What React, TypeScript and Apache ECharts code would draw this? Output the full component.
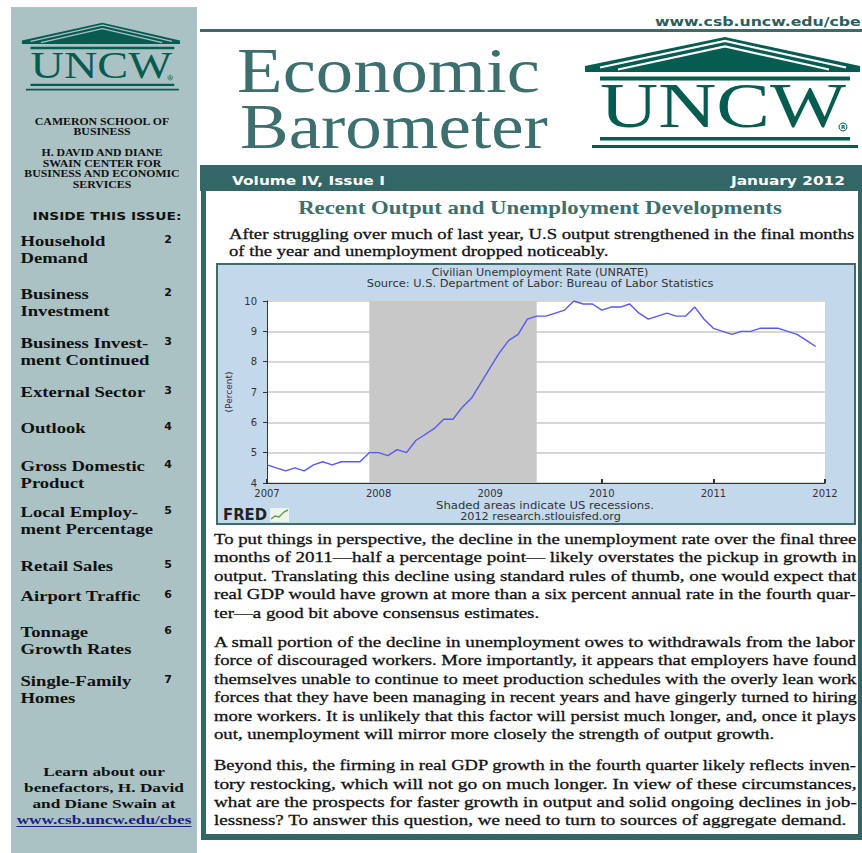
import React, { useEffect, useRef } from 'react';
import * as echarts from 'echarts';

// ---------- chart data: Civilian Unemployment Rate (UNRATE), monthly, Jan 2007 - Dec 2011 ----------
const startYear = 2007;
const rate2007 = [4.6, 4.5, 4.4, 4.5, 4.4, 4.6, 4.7, 4.6, 4.7, 4.7, 4.7, 5.0];
const rate2008 = [5.0, 4.9, 5.1, 5.0, 5.4, 5.6, 5.8, 6.1, 6.1, 6.5, 6.8, 7.3];
const rate2009 = [7.8, 8.3, 8.7, 8.9, 9.4, 9.5, 9.5, 9.6, 9.7, 10.0, 9.9, 9.9];
const rate2010 = [9.7, 9.8, 9.8, 9.9, 9.6, 9.4, 9.5, 9.6, 9.5, 9.5, 9.8, 9.4];
const rate2011 = [9.1, 9.0, 8.9, 9.0, 9.0, 9.1, 9.1, 9.1, 9.0, 8.9, 8.7, 8.5];
const recessionStart = { year: 2007, month: 12 };
const recessionEnd = { year: 2009, month: 6 };
const xRange = [2007, 2012];
const yRange = [4, 10];

// ---------- page texts ----------
const chartTitle = 'Civilian Unemployment Rate (UNRATE)';
const chartSource = 'Source: U.S. Department of Labor: Bureau of Labor Statistics';
const chartNote1 = 'Shaded areas indicate US recessions.';
const chartNote2 = '2012 research.stlouisfed.org';

const sideHeader = ['CAMERON SCHOOL OF', 'BUSINESS', 'H. DAVID AND DIANE', 'SWAIN CENTER FOR', 'BUSINESS AND ECONOMIC', 'SERVICES'];
const tocTitles = [
  ['Household', 'Demand'],
  ['Business', 'Investment'],
  ['Business Invest-', 'ment Continued'],
  ['External Sector'],
  ['Outlook'],
  ['Gross Domestic', 'Product'],
  ['Local Employ-', 'ment Percentage'],
  ['Retail Sales'],
  ['Airport Traffic'],
  ['Tonnage', 'Growth Rates'],
  ['Single-Family', 'Homes'],
];
const tocPages = ['2', '2', '3', '3', '4', '4', '5', '5', '6', '6', '7'];
const learnLines = ['Learn about our', 'benefactors, H. David', 'and Diane Swain at'];
const learnUrl = 'www.csb.uncw.edu/cbes';

const introLines = [
  'After struggling over much of last year, U.S output strengthened in the final months',
  'of the year and unemployment dropped noticeably.',
];
const para1 = [
  'To put things in perspective, the decline in the unemployment rate over the final three',
  'months of 2011\u2014half a percentage point\u2014 likely overstates the pickup in growth in',
  'output. Translating this decline using standard rules of thumb, one would expect that',
  'real GDP would have grown at more than a six percent annual rate in the fourth quar-',
  'ter\u2014a good bit above consensus estimates.',
];
const para2 = [
  'A small portion of the decline in unemployment owes to withdrawals from the labor',
  'force of discouraged workers. More importantly, it appears that employers have found',
  'themselves unable to continue to meet production schedules with the overly lean work',
  'forces that they have been managing in recent years and have gingerly turned to hiring',
  'more workers. It is unlikely that this factor will persist much longer, and, once it plays',
  'out, unemployment will mirror more closely the strength of output growth.',
];
const para3 = [
  'Beyond this, the firming in real GDP growth in the fourth quarter likely reflects inven-',
  'tory restocking, which will not go on much longer. In view of these circumstances,',
  'what are the prospects for faster growth in output and solid ongoing declines in job-',
  'lessness? To answer this question, we need to turn to sources of aggregate demand.',
];

// ---------- styles ----------
const SERIF = 'Liberation Serif';
const SANS = 'DejaVu Sans';
const TEAL = '#336666';
const TITLE = '#3d6f6f';
const LOGO = '#065c50';
const SIDEBAR = '#abc2c5';
const INK = '#111111';

let mctx: CanvasRenderingContext2D | null = null;
function measure(text: string, size: number, family: string, weight: string) {
  if (!mctx) mctx = document.createElement('canvas').getContext('2d');
  mctx!.font = `${weight} ${size}px "${family}"`;
  return mctx!.measureText(text).width;
}

type TOpt = {
  size: number; family?: string; weight?: string; fill?: string;
  align?: 'left' | 'center' | 'right'; sx?: number; width?: number; heavy?: boolean;
};
function txt(text: string, x: number, y: number, o: TOpt): any {
  const family = o.family ?? SERIF;
  const weight = o.weight ?? 'normal';
  const fill = o.fill ?? INK;
  let sx = o.sx ?? 1;
  if (o.width) sx = o.width / measure(text, o.size, family, weight);
  const style: any = {
    text, x: 0, y: 0, fontSize: o.size, fontFamily: family, fontWeight: weight,
    fill, textAlign: o.align ?? 'left', textVerticalAlign: 'middle',
  };
  if (o.heavy) { style.stroke = fill; style.lineWidth = 0.3; }
  return { type: 'text', x, y, scaleX: sx, z: 20, style };
}

function paragraph(lines: string[], x: number, y0: number, step: number, width: number, size: number) {
  const nat = lines.map((l) => measure(l, size, SERIF, 'normal'));
  const sc = nat.map((w) => width / w);
  const body = sc.slice(0, -1);
  const avg = body.length ? body.reduce((a, b) => a + b, 0) / body.length : 1;
  return lines.map((l, i) =>
    txt(l, x, y0 + i * step, { size, heavy: true, sx: i < lines.length - 1 ? sc[i] : Math.min(avg, sc[i]) })
  );
}

function logo(x: number, y: number, sx: number, sy: number, stripe: string): any {
  return {
    type: 'group', x, y, scaleX: sx, scaleY: sy,
    children: [
      { type: 'polygon', z: 15, shape: { points: [[5, 36], [145, 7], [280, 36], [280, 42], [5, 42]] }, style: { fill: LOGO } },
      { type: 'polyline', z: 16, shape: { points: [[20, 37.5], [145, 11], [266, 37.5]] }, style: { stroke: stripe, lineWidth: 2.2, fill: null } },
      { type: 'polyline', z: 16, shape: { points: [[38, 39.5], [145, 16.5], [249, 39.5]] }, style: { stroke: stripe, lineWidth: 2.2, fill: null } },
      { type: 'rect', z: 15, shape: { x: 20, y: 46.5, width: 250, height: 4 }, style: { fill: LOGO } },
      { ...txt('UNCW', 20, 76, { size: 63, fill: LOGO, width: 246 }), z: 17 },
      { type: 'circle', z: 17, shape: { cx: 263, cy: 97, r: 4 }, style: { fill: 'none', stroke: LOGO, lineWidth: 1 } },
      { ...txt('R', 263, 97.3, { size: 5.5, family: SANS, weight: 'bold', fill: LOGO, align: 'center' }), z: 17 },
      { type: 'rect', z: 15, shape: { x: 20, y: 107, width: 250, height: 3.5 }, style: { fill: LOGO } },
      { type: 'rect', z: 15, shape: { x: 12, y: 115, width: 266, height: 3 }, style: { fill: LOGO } },
    ],
  };
}

function buildOption(): any {
  const rates = [...rate2007, ...rate2008, ...rate2009, ...rate2010, ...rate2011];
  const points = rates.map((v, i) => [startYear + i / 12, v]);
  const recStart = recessionStart.year + (recessionStart.month - 1) / 12;
  const recEnd = recessionEnd.year + (recessionEnd.month - 1) / 12;

  const g: any[] = [];
  // backgrounds & frames
  g.push({ type: 'rect', z: -1, shape: { x: 11, y: 7, width: 186, height: 846 }, style: { fill: SIDEBAR } });
  g.push({ type: 'rect', z: 1, shape: { x: 200, y: 29, width: 662, height: 3 }, style: { fill: '#3d6b6b' } });
  g.push({ type: 'rect', z: 1, shape: { x: 200, y: 165, width: 662, height: 26 }, style: { fill: TEAL } });
  g.push({ type: 'rect', z: 1, shape: { x: 201, y: 165, width: 5, height: 675 }, style: { fill: TEAL } });
  g.push({ type: 'rect', z: 1, shape: { x: 858, y: 165, width: 4, height: 675 }, style: { fill: TEAL } });
  g.push({ type: 'rect', z: 1, shape: { x: 201, y: 834, width: 661, height: 6 }, style: { fill: TEAL } });
  g.push({ type: 'rect', z: -1, shape: { x: 217, y: 264, width: 638, height: 260 }, style: { fill: '#c4d8ec', stroke: '#3f6b6b', lineWidth: 2 } });

  // logos
  g.push(logo(580, 30, 1, 1, '#ffffff'));
  g.push(logo(19, 18.5, 0.575, 0.61, SIDEBAR));

  // masthead
  g.push(txt('www.csb.uncw.edu/cbe', 655, 21.5, { size: 13, family: SANS, weight: 'bold', fill: '#2f5d5d', width: 206 }));
  g.push(txt('Economic', 237, 70.5, { size: 63, fill: TITLE, width: 303 }));
  g.push(txt('Barometer', 240, 126.5, { size: 63, fill: TITLE, width: 308 }));
  const banL = txt('Volume IV, Issue I', 232, 181, { size: 12, family: SANS, weight: 'bold', fill: '#ffffff', width: 153 });
  g.push(banL);
  g.push(txt('January 2012', 845, 181, { size: 12, family: SANS, weight: 'bold', fill: '#ffffff', align: 'right', sx: banL.scaleX }));

  // sidebar header
  const hdrSx = 156 / measure('BUSINESS AND ECONOMIC', 9.5, SERIF, 'bold');
  const hdrY = [121, 131.5, 152, 163, 173.5, 184];
  sideHeader.forEach((s, i) => g.push(txt(s, 102, hdrY[i], { size: 9.5, weight: 'bold', align: 'center', sx: hdrSx })));
  g.push(txt('INSIDE THIS ISSUE:', 107, 216.5, { size: 10, family: SANS, weight: 'bold', align: 'center', width: 149 }));

  // table of contents
  const tocSx = 85 / measure('Household', 14, SERIF, 'bold');
  const tocY = [241, 294, 343, 392, 428, 466, 512, 566, 596, 632, 681];
  tocTitles.forEach((lines, i) => {
    lines.forEach((l, j) => g.push(txt(l, 20.5, tocY[i] + j * 17, { size: 14, weight: 'bold', sx: tocSx })));
    g.push(txt(tocPages[i], 168, tocY[i] - 1.5, { size: 11, family: SANS, weight: 'bold', align: 'center' }));
  });

  // benefactors
  const lSx = 160 / measure('benefactors, H. David', 12.5, SERIF, 'bold');
  const lY = [772, 788, 804];
  learnLines.forEach((l, i) => g.push(txt(l, 104, lY[i], { size: 12.5, weight: 'bold', align: 'center', sx: lSx })));
  g.push(txt(learnUrl, 104, 820, { size: 12.5, weight: 'bold', align: 'center', sx: lSx, fill: '#1c1c8c' }));
  const uw = measure(learnUrl, 12.5, SERIF, 'bold') * lSx;
  g.push({ type: 'line', z: 20, shape: { x1: 104 - uw / 2, y1: 826.5, x2: 104 + uw / 2, y2: 826.5 }, style: { stroke: '#1c1c8c', lineWidth: 1 } });

  // article
  g.push(txt('Recent Output and Unemployment Developments', 540, 208, { size: 18, weight: 'bold', fill: TITLE, align: 'center', width: 484 }));
  g.push(...paragraph(introLines, 229, 234, 17.5, 626, 15.5));
  g.push(...paragraph(para1, 214, 539, 18.4, 643, 15.5));
  g.push(...paragraph(para2, 214, 642, 18.4, 643, 15.5));
  g.push(...paragraph(para3, 214, 765, 18.4, 643, 15.5));

  // chart annotations
  g.push(txt(chartTitle, 540, 273, { size: 10, family: SANS, fill: '#333', align: 'center', width: 217 }));
  g.push(txt(chartSource, 540, 283.5, { size: 10, family: SANS, fill: '#333', align: 'center', width: 347 }));
  g.push(txt(chartNote1, 545, 506, { size: 10, family: SANS, fill: '#333', align: 'center', width: 218 }));
  g.push(txt(chartNote2, 540.5, 516.5, { size: 10, family: SANS, fill: '#333', align: 'center', width: 161 }));
  g.push(txt('FRED', 223, 515, { size: 15, family: SANS, weight: 'bold', fill: '#222', width: 44 }));
  g.push({ type: 'rect', z: 19, shape: { x: 270, y: 508, width: 19, height: 14 }, style: { fill: '#eef3ec' } });
  g.push({ type: 'polyline', z: 20, shape: { points: [[271, 519], [275, 516], [279, 517], [284, 512], [288, 510]] }, style: { stroke: '#5a9f4f', lineWidth: 1.4, fill: null } });

  return {
    animation: false,
    backgroundColor: '#ffffff',
    graphic: { elements: g },
    grid: { left: 267, top: 301, width: 558, height: 182, show: true, backgroundColor: '#ffffff', borderWidth: 0 },
    xAxis: {
      type: 'value', min: xRange[0], max: xRange[1], interval: 1,
      axisLine: { show: true, lineStyle: { color: '#333', width: 1 } },
      axisTick: { show: true, inside: true, length: 4, lineStyle: { color: '#333', width: 2 } },
      axisLabel: { color: '#333', fontSize: 10, lineHeight: 10, fontFamily: SANS, margin: 5, formatter: (v: number) => String(v) },
      splitLine: { show: false },
    },
    yAxis: {
      type: 'value', min: yRange[0], max: yRange[1], interval: 1,
      name: '(Percent)', nameLocation: 'middle', nameGap: 34,
      nameTextStyle: { color: '#333', fontSize: 9, fontFamily: SANS },
      axisLine: { show: true, lineStyle: { color: '#333', width: 1 } },
      axisTick: { show: true, length: 4, lineStyle: { color: '#333' } },
      axisLabel: { color: '#333', fontSize: 10, lineHeight: 10, fontFamily: SANS, margin: 10 },
      splitLine: { show: true, lineStyle: { color: '#d6d6d6', width: 2 } },
    },
    series: [
      {
        type: 'line', data: points, showSymbol: false, silent: true,
        lineStyle: { color: '#5858f2', width: 1.4 },
        markArea: {
          silent: true,
          itemStyle: { color: '#c8c8c8' },
          data: [[{ xAxis: recStart }, { xAxis: recEnd }]],
        },
      },
    ],
  };
}

export default function App() {
  const ref = useRef<HTMLDivElement>(null);
  useEffect(() => {
    const chart = echarts.init(ref.current!, undefined, { renderer: 'svg' });
    chart.setOption(buildOption());
    return () => chart.dispose();
  }, []);
  return <div ref={ref} style={{ position: 'fixed', left: 0, top: 0, width: 862, height: 853 }} />;
}
